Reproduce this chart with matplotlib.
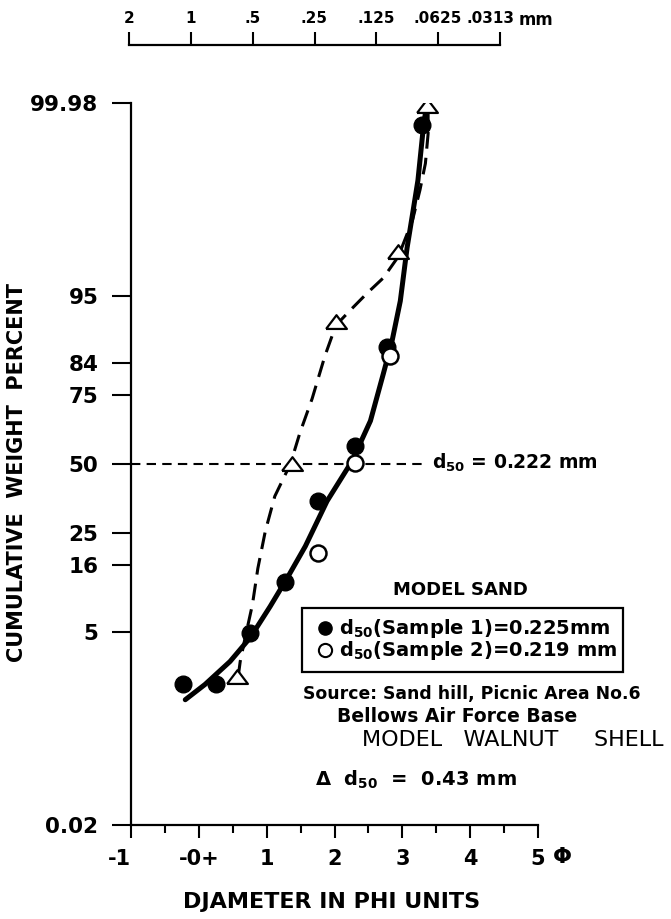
import math
import numpy as np
import matplotlib
matplotlib.use("Agg")
import matplotlib.pyplot as plt
import matplotlib.transforms as mtransforms
from matplotlib.patches import Rectangle
from matplotlib.lines import Line2D

plt.rcParams['font.family'] = 'DejaVu Sans'
plt.rcParams['mathtext.fontset'] = 'custom'
plt.rcParams['mathtext.rm'] = 'DejaVu Sans:bold'
plt.rcParams['mathtext.it'] = 'DejaVu Sans:bold'
plt.rcParams['mathtext.default'] = 'rm'

# ---------------- data (phi units, cumulative weight %) ----------------
s1_phi = [-0.24, 0.26, 0.76, 1.27, 1.76, 2.30, 2.78, 3.29]
s1_pct = [1.55, 1.54, 4.9, 12.4, 35.8, 57.0, 87.4, 99.956]

s2_phi = [1.75, 2.30, 2.82]
s2_pct = [19.2, 50.3, 85.6]

walnut_phi = [0.56, 1.37, 2.02, 2.94, 3.36]
walnut_pct = [1.85, 49.9, 91.8, 98.1, 99.978]

# hand drawn curves
sand_curve_phi = [-0.20, 0.09, 0.46, 0.76, 1.05, 1.30, 1.57, 1.89, 2.26,
                  2.53, 2.72, 2.85, 2.97, 3.07, 3.16, 3.23, 3.31, 3.34]
sand_curve_pct = [1.04, 1.53, 2.64, 4.45, 8.1, 13.1, 21.0, 35.8, 51.2,
                  66.4, 81.2, 88.7, 94.5, 98.3, 99.36, 99.73, 99.952, 99.971]

walnut_curve_phi = [0.58, 0.61, 0.68, 0.79, 0.87, 0.98, 1.12, 1.35, 1.49,
                    1.67, 1.86, 2.02, 2.23, 2.48, 2.72, 2.94, 3.15, 3.26,
                    3.34, 3.38, 3.38]
walnut_curve_pct = [1.85, 2.64, 4.35, 8.4, 15.3, 25.5, 37.6, 50.0, 62.0,
                    73.9, 85.6, 91.3, 93.4, 95.3, 96.6, 97.9, 99.16, 99.64,
                    99.84, 99.94, 99.971]

d50_line_phi = [-1.0, 3.29]
d50_line_pct = [50, 50]

y_ticks = [0.02, 5, 16, 25, 50, 75, 84, 95, 99.98]
y_labels = ['0.02', '5', '16', '25', '50', '75', '84', '95', '99.98']
x_ticks = [-1, 0, 1, 2, 3, 4, 5]
x_labels = ['-1', '-0+', '1', '2', '3', '4', '5']
mm_ticks = [-1, 0, 1, 2, 3, 4, 5]
mm_labels = ['2', '1', '.5', '.25', '.125', '.0625', '.0313']

# ---------------- probability (probit) scale ----------------
_erf = np.vectorize(math.erf, otypes=[float])


def pct_from_z(z):
    z = np.asarray(z, dtype=float)
    return 50.0 * (1.0 + _erf(z / math.sqrt(2.0)))


def z_from_pct(p):
    q = np.clip(np.asarray(p, dtype=float), 1e-10, 100 - 1e-10)
    lo = np.full(q.shape, -9.0)
    hi = np.full(q.shape, 9.0)
    for _ in range(60):
        mid = 0.5 * (lo + hi)
        below = pct_from_z(mid) < q
        lo = np.where(below, mid, lo)
        hi = np.where(below, hi, mid)
    return 0.5 * (lo + hi)


W, H = 671, 919


def fx(px):
    return px / W


def fy(py):
    return 1 - py / H


fig = plt.figure(figsize=(6.71, 9.19), dpi=100)

ax = fig.add_axes([fx(131), fy(825), (538 - 131) / W, (825 - 103) / H])
ax.set_yscale('function', functions=(z_from_pct, pct_from_z))
ax.set_xlim(-1, 5)
ax.set_ylim(0.02, 99.98)

for s in ['top', 'right']:
    ax.spines[s].set_visible(False)
for s in ['left', 'bottom']:
    ax.spines[s].set_linewidth(1.6)

ax.set_yticks(y_ticks)
ax.set_yticklabels(y_labels)
ax.yaxis.set_minor_locator(matplotlib.ticker.NullLocator())
ax.tick_params(axis='y', direction='out', length=14, width=1.5, pad=9.5,
               labelsize=15.5)
ax.set_xticks(x_ticks)
ax.set_xticklabels(x_labels)
ax.set_xticks(np.arange(-0.5, 5, 1.0), minor=True)
ax.tick_params(axis='x', which='major', direction='out', length=9.5,
               width=1.5, pad=8, labelsize=15)
ax.tick_params(axis='x', which='minor', direction='out', length=5.5,
               width=1.5)
for lab in ax.get_yticklabels() + ax.get_xticklabels():
    lab.set_fontweight('bold')
ax.get_xticklabels()[0].set_horizontalalignment('right')

# curves
ax.plot(sand_curve_phi, sand_curve_pct, color='black', lw=3.6,
        solid_capstyle='round', solid_joinstyle='round', zorder=3)
ax.plot(walnut_curve_phi, walnut_curve_pct, color='black', lw=2.2,
        dashes=(5.5, 3), zorder=3)
ax.plot(d50_line_phi, d50_line_pct, color='black', lw=1.5,
        dashes=(4.5, 3), zorder=2)

# points
ax.plot(s1_phi, s1_pct, 'o', ms=12, color='black', zorder=4,
        linestyle='none')
ax.plot(s2_phi, s2_pct, 'o', ms=11.5, mfc='white', mec='black', mew=1.8,
        zorder=5, linestyle='none')
tri = [(-1, -0.62), (1, -0.62), (0, 0.7), (-1, -0.62)]
ax.plot(walnut_phi, walnut_pct, marker=tri, ms=15, mfc='white',
        mec='black', mew=1.6, zorder=5, linestyle='none')

# top mm scale
ax2 = fig.add_axes([fx(129), fy(45) - 0.01, (500 - 129) / W, 0.01])
ax2.set_xlim(-1, 5)
ax2.set_yticks([])
for s in ['bottom', 'left', 'right']:
    ax2.spines[s].set_visible(False)
ax2.spines['top'].set_linewidth(1.6)
ax2.xaxis.tick_top()
ax2.set_xticks(mm_ticks)
ax2.set_xticklabels(mm_labels)
ax2.tick_params(axis='x', direction='out', length=9.5, width=1.5, pad=4,
                labelsize=11)
for lab in ax2.get_xticklabels():
    lab.set_fontweight('bold')
last = ax2.get_xticklabels()[-1]
last.set_transform(last.get_transform() +
                   mtransforms.ScaledTranslation(-0.09, 0,
                                                 fig.dpi_scale_trans))
fig.text(fx(519), fy(20), 'mm', fontsize=12, fontweight='bold',
         ha='left', va='center')

# axis titles
fig.text(fx(17), fy(473), 'CUMULATIVE  WEIGHT  PERCENT', rotation=90,
         fontsize=15, fontweight='bold', ha='center', va='center')
fig.text(fx(332), fy(902), 'DJAMETER IN PHI UNITS', fontsize=16,
         fontweight='bold', ha='center', va='center')
fig.text(fx(562), fy(857), 'Φ', fontsize=16, fontweight='bold',
         ha='center', va='center')

# annotations
fig.text(fx(432), fy(463), '$d_{50}$ = 0.222 mm', fontsize=13.5,
         fontweight='bold', ha='left', va='center')
fig.text(fx(460), fy(590), 'MODEL SAND', fontsize=13, fontweight='bold',
         ha='center', va='center')

box = Rectangle((fx(301.7), fy(671.7)), (623.3 - 301.7) / W,
                (671.7 - 608.3) / H, transform=fig.transFigure,
                fill=False, lw=1.6, ec='black')
fig.add_artist(box)
fig.add_artist(Line2D([fx(325)], [fy(628)], marker='o', ms=9.5,
                      color='black', transform=fig.transFigure))
fig.add_artist(Line2D([fx(325)], [fy(650)], marker='o', ms=9.5, mfc='white',
                      mec='black', mew=1.5, transform=fig.transFigure))
fig.text(fx(339), fy(628), '$d_{50}$(Sample 1)=0.225mm', fontsize=14,
         fontweight='bold', ha='left', va='center')
fig.text(fx(339), fy(650), '$d_{50}$(Sample 2)=0.219 mm', fontsize=14,
         fontweight='bold', ha='left', va='center')

fig.text(fx(303), fy(694), 'Source: Sand hill, Picnic Area No.6',
         fontsize=12.4, fontweight='bold', ha='left', va='center')
fig.text(fx(337), fy(717), 'Bellows Air Force Base', fontsize=13.5,
         fontweight='bold', ha='left', va='center')
fig.text(fx(362), fy(740), 'MODEL   WALNUT     SHELL', fontsize=16,
         ha='left', va='center')
fig.text(fx(315), fy(780), 'Δ  $d_{50}$  =  0.43 mm', fontsize=14,
         fontweight='bold', ha='left', va='center')

fig.savefig('out.png', dpi=100)
